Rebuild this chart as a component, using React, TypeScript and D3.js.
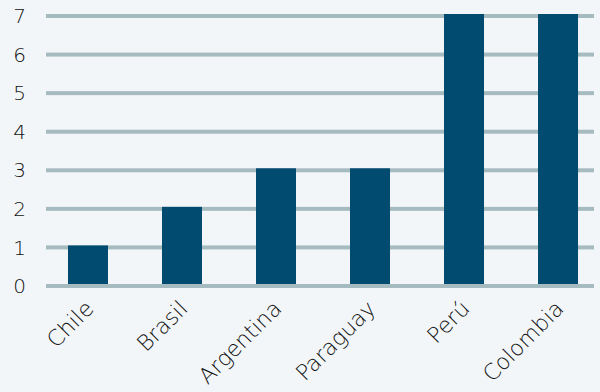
import React from "react";
import * as d3 from "d3";

const categories = ["Chile", "Brasil", "Argentina", "Paraguay", "Perú", "Colombia"];
const values = [1, 2, 3, 3, 7, 7];
const yTicks = [0, 1, 2, 3, 4, 5, 6, 7];

const W = 600;
const H = 392;

export default function App() {
  const x = d3
    .scaleBand<string>()
    .domain(categories)
    .range([41, 605])
    .paddingInner(0.5745)
    .paddingOuter(0.287);
  const y = d3.scaleLinear().domain([0, 7]).range([284, 14]);
  const gridX0 = 46;
  const gridX1 = 594;
  const lineW = 4;
  const font = "'DejaVu Sans', sans-serif";

  return (
    <svg
      width={W}
      height={H}
      style={{ position: "absolute", left: 0, top: 0, background: "#f2f6f9" }}
    >
      <rect x={0} y={0} width={W} height={H} fill="#f2f6f9" />
      {yTicks.map((t) => (
        <rect
          key={"g" + t}
          x={gridX0}
          y={y(t)}
          width={gridX1 - gridX0}
          height={lineW}
          fill="#a6bbbf"
        />
      ))}
      {categories.map((c, i) => (
        <rect
          key={"b" + c}
          x={x(c)}
          y={y(values[i])}
          width={x.bandwidth()}
          height={y(0) - y(values[i])}
          fill="#004b6f"
        />
      ))}
      <rect x={gridX0} y={y(0)} width={gridX1 - gridX0} height={lineW} fill="#a6bbbf" />
      {yTicks.map((t) => (
        <text
          key={"t" + t}
          x={26}
          y={y(t) + 2}
          dy="0.36em"
          textAnchor="end"
          fontFamily={font}
          fontWeight={200}
          fontSize={20}
          fill="#111"
        >
          {t}
        </text>
      ))}
      {categories.map((c) => {
        const cx = (x(c) as number) + x.bandwidth() / 2;
        return (
          <text
            key={"l" + c}
            transform={`translate(${cx + 7},${310}) rotate(-45)`}
            textAnchor="end"
            fontFamily={font}
            fontWeight={200}
            fontSize={22}
            fill="#111"
          >
            {c}
          </text>
        );
      })}
    </svg>
  );
}
